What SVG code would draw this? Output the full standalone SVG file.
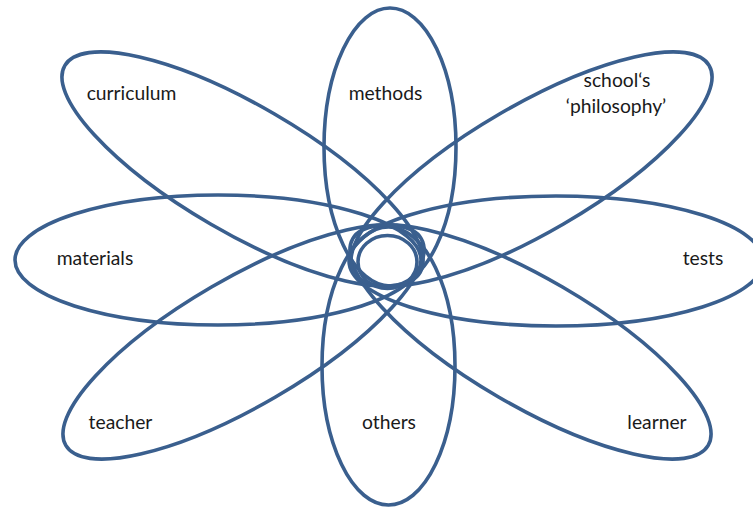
<svg xmlns="http://www.w3.org/2000/svg" width="753" height="509" viewBox="0 0 753 509">
<style>
.p{fill:none;stroke:#3A5F8E;stroke-width:3.6}
.t{font-family:Lato,"Open Sans","Liberation Sans",sans-serif;font-size:19.3px;fill:#1a1a1a;text-anchor:middle}
</style>
<rect width="753" height="509" fill="#fff"/>
<g id="methods"><ellipse class="p" cx="390" cy="147" rx="66" ry="139"/><text class="t" x="385.5" y="100">methods</text></g>
<g id="others"><ellipse class="p" cx="388.5" cy="366" rx="66.5" ry="139"/><text class="t" x="389" y="429">others</text></g>
<g id="materials"><ellipse class="p" cx="218" cy="260" rx="203" ry="65"/><text class="t" x="95" y="265">materials</text></g>
<g id="tests"><ellipse class="p" cx="556" cy="261" rx="207" ry="65"/><text class="t" x="703" y="265">tests</text></g>
<g id="curriculum"><ellipse class="p" cx="0" cy="0" rx="205.6" ry="63.6" transform="translate(242.5 169) rotate(30.2)"/><text class="t" x="131.5" y="100">curriculum</text></g>
<g id="learner"><ellipse class="p" cx="0" cy="0" rx="205.6" ry="63.6" transform="translate(530.5 342) rotate(30.2)"/><text class="t" x="657" y="429">learner</text></g>
<g id="philosophy"><ellipse class="p" cx="0" cy="0" rx="205.6" ry="63.6" transform="translate(531.5 169) rotate(-30.2)"/><text class="t" x="617" y="87">school‘s</text><text class="t" x="616" y="113">‘philosophy’</text></g>
<g id="teacher"><ellipse class="p" cx="0" cy="0" rx="205.6" ry="63.6" transform="translate(243.5 342) rotate(-30.2)"/><text class="t" x="120.5" y="429">teacher</text></g>
<g id="centre"><ellipse class="p" cx="387.5" cy="262" rx="29.5" ry="26.5"/></g>
</svg>
